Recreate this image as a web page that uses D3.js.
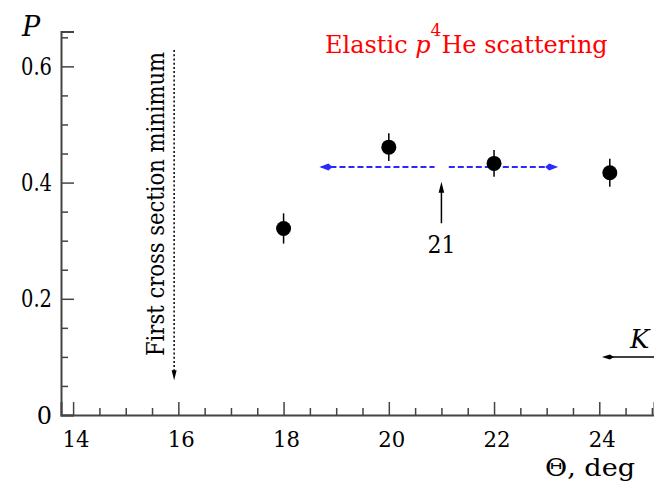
<!DOCTYPE html>
<html><head><meta charset="utf-8">
<script src="https://cdn.jsdelivr.net/npm/d3@7"></script>
<style>body{margin:0;background:#fff}svg{display:block}</style>
</head><body>
<svg id="c" width="654" height="483"></svg>
<script>
// data
const theta = [18, 20, 22, 24.2];
const P = [0.321, 0.461, 0.433, 0.417];
const Perr = [0.026, 0.024, 0.023, 0.024];
const avgSegments = [[18.72, 20.87], [21.14, 23.18]];
const avgP = 0.427;
const minTheta = 15.92, minTop = 0.628, minBottom = 0.06;
const arrow21 = {x: 21, from: 0.33, to: 0.4015, label: "21"};
const kLine = {x0: 24.05, x1: 25.1, p: 0.1, label: "K"};
const xMajor = [14, 16, 18, 20, 22, 24];
const yMajor = [0, 0.2, 0.4, 0.6];
const yLabels = ["0", "0.2", "0.4", "0.6"];

const FONT = "DejaVu Serif";
const svg = d3.select("#c");
const x = d3.scaleLinear().domain([13.77, 25.04]).range([61, 654]);
const y = d3.scaleLinear().domain([0, 0.66]).range([415, 31.5]);
const axisCol = "#444";
const txt = (sel) => sel.append("text").attr("font-family", FONT);

// minor ticks
const xMinor = d3.range(14, 25.01, 0.5).filter(v => !xMajor.includes(v));
const yMinor = d3.range(0.05, 0.66, 0.05).filter(v => !yMajor.some(m => Math.abs(m - v) < 1e-6));

const gx = svg.append("g").attr("transform", "translate(0,415)");
gx.call(d3.axisBottom(x).tickValues(xMajor).tickSize(-13).tickFormat(""));
gx.append("g").call(d3.axisBottom(x).tickValues(xMinor).tickSize(-7).tickFormat(""));
gx.selectAll("path.domain").attr("stroke", axisCol).attr("stroke-width", 2);
gx.selectAll(".tick line").attr("stroke", axisCol).attr("stroke-width", 1.5);
gx.selectAll("g > g > path.domain").remove();

const gy = svg.append("g").attr("transform", "translate(61,0)");
gy.call(d3.axisLeft(y).tickValues(yMajor).tickSize(-13).tickFormat(""));
gy.append("g").call(d3.axisLeft(y).tickValues(yMinor).tickSize(-7).tickFormat(""));
gy.selectAll("path.domain").attr("stroke", axisCol).attr("stroke-width", 2);
gy.selectAll(".tick line").attr("stroke", axisCol).attr("stroke-width", 1.5);
gy.selectAll("g > g > path.domain").remove();

// tick labels
svg.append("g").selectAll("text").data(xMajor).join("text").attr("font-family", FONT)
  .attr("x", d => x(d) + 3).attr("y", 447).attr("text-anchor", "middle")
  .attr("font-size", 23).attr("textLength", 27).attr("lengthAdjust", "spacingAndGlyphs").text(d => d);
svg.append("g").selectAll("text").data(yMajor).join("text").attr("font-family", FONT)
  .attr("x", 52).attr("y", d => y(d) + 8.5).attr("text-anchor", "end")
  .attr("font-size", 24)
  .each(function(d, i) {
    const s = d3.select(this).text(yLabels[i]);
    if (yLabels[i].length > 1) s.attr("textLength", 31).attr("lengthAdjust", "spacingAndGlyphs");
  });

// axis titles
txt(svg).attr("x", 22).attr("y", 36).attr("font-size", 27)
  .attr("font-style", "italic").text("P");
txt(svg).attr("x", 545).attr("y", 476).attr("font-size", 25)
  .attr("textLength", 90).attr("lengthAdjust", "spacingAndGlyphs").text("Θ, deg");

// title
const t = txt(svg).attr("x", 325).attr("y", 53).attr("font-size", 24).attr("fill", "#ff0000");
t.append("tspan").text("Elastic ");
t.append("tspan").attr("font-style", "italic").text("p");
t.append("tspan").attr("font-size", 17).attr("dy", -17).text("4");
t.append("tspan").attr("dy", 17).text("He scattering");

// first cross section minimum
svg.append("line").attr("x1", x(minTheta)).attr("x2", x(minTheta))
  .attr("y1", y(minTop)).attr("y2", y(minBottom) - 8)
  .attr("stroke", "#000").attr("stroke-width", 1.5).attr("stroke-dasharray", "2,2.2");
svg.append("path").attr("d", `M${x(minTheta)},${y(minBottom)} l-2.5,-10 l5,0 z`).attr("fill", "#000");
txt(svg).attr("transform", `translate(164,356) rotate(-90)`)
  .attr("font-size", 24).attr("textLength", 304).attr("lengthAdjust", "spacingAndGlyphs")
  .text("First cross section minimum");

// average dashed blue line
const blue = "#2a2aff";
avgSegments.forEach(s => {
  svg.append("line").attr("x1", x(s[0])).attr("x2", x(s[1])).attr("y1", y(avgP)).attr("y2", y(avgP))
    .attr("stroke", blue).attr("stroke-width", 2).attr("stroke-dasharray", "6,3");
});
const yb = y(avgP);
const xl = x(avgSegments[0][0]) - 2, xr = x(avgSegments[1][1]) + 2;
svg.append("path").attr("d", `M${xl},${yb} L${xl+9},${yb-3.5} L${xl+13},${yb} L${xl+9},${yb+3.5} Z`).attr("fill", blue);
svg.append("path").attr("d", `M${xr},${yb} L${xr-9},${yb-3.5} L${xr-13},${yb} L${xr-9},${yb+3.5} Z`).attr("fill", blue);

// arrow 21
const ax = x(arrow21.x);
svg.append("line").attr("x1", ax).attr("x2", ax).attr("y1", y(arrow21.from)).attr("y2", y(arrow21.to) + 6)
  .attr("stroke", "#000").attr("stroke-width", 1.5);
svg.append("path").attr("d", `M${ax},${y(arrow21.to)} l-2.8,11 l5.6,0 z`).attr("fill", "#000");
txt(svg).attr("x", ax).attr("y", 253).attr("text-anchor", "middle").attr("font-size", 24)
  .attr("textLength", 28).attr("lengthAdjust", "spacingAndGlyphs").text(arrow21.label);

// K line
const ky = y(kLine.p);
svg.append("line").attr("x1", x(kLine.x0) + 4).attr("x2", x(kLine.x1)).attr("y1", ky).attr("y2", ky)
  .attr("stroke", "#000").attr("stroke-width", 1.5);
svg.append("path").attr("d", `M${x(kLine.x0)},${ky} L${x(kLine.x0)+8},${ky-2.5} L${x(kLine.x0)+12},${ky} L${x(kLine.x0)+8},${ky+2.5} Z`).attr("fill", "#000");
txt(svg).attr("x", 630).attr("y", 348).attr("font-size", 26).attr("font-style", "italic").text(kLine.label);

// data points
const pts = theta.map((t, i) => ({t, p: P[i], e: Perr[i]}));
svg.append("g").selectAll("line").data(pts).join("line")
  .attr("x1", d => x(d.t)).attr("x2", d => x(d.t))
  .attr("y1", d => y(d.p - d.e)).attr("y2", d => y(d.p + d.e))
  .attr("stroke", "#000").attr("stroke-width", 1.5);
svg.append("g").selectAll("circle").data(pts).join("circle")
  .attr("cx", d => x(d.t)).attr("cy", d => y(d.p)).attr("r", 7.5).attr("fill", "#000");
</script>
</body></html>
